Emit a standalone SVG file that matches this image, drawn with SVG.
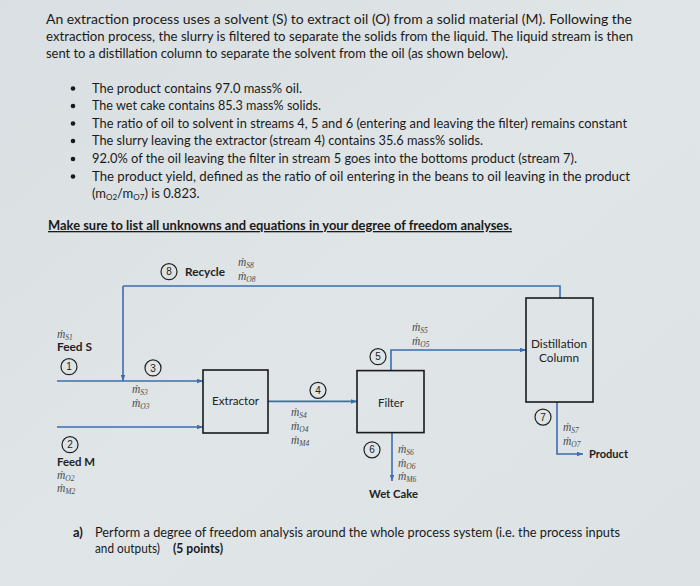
<svg xmlns="http://www.w3.org/2000/svg" width="700" height="586" viewBox="0 0 700 586">
<defs>
<linearGradient id="bg" x1="0" y1="0" x2="1" y2="1">
<stop offset="0" stop-color="#d9dfe2"/>
<stop offset="0.5" stop-color="#e0e5e7"/>
<stop offset="1" stop-color="#dde2e4"/>
</linearGradient>
<marker id="ah" viewBox="0 0 8 6" refX="8" refY="3" markerWidth="6" markerHeight="5" markerUnits="userSpaceOnUse" orient="auto">
<path d="M0,0 L8,3 L0,6 Z" fill="#3d6db0"/>
</marker>
<style>
.t{font-family:Lato,"Liberation Sans",Arial,sans-serif;font-size:13px;fill:#1a1a1a}
.tb{font-family:Lato,"Liberation Sans",Arial,sans-serif;font-size:13px;font-weight:bold;fill:#1a1a1a}
.lb{font-family:Lato,"Liberation Sans",Arial,sans-serif;font-size:11px;fill:#222}
.lbb{font-family:Lato,"Liberation Sans",Arial,sans-serif;font-size:11px;font-weight:bold;fill:#222}
.m{font-family:"Liberation Serif","DejaVu Serif",serif;font-style:italic;font-size:11.5px;fill:#4a4a4a}
.sb{font-size:7.5px}
.num{font-family:"Liberation Sans",Arial,sans-serif;font-size:10px;fill:#222;text-anchor:middle}
.circ{fill:none;stroke:#222;stroke-width:1.2}
.box{fill:none;stroke:#1a1a1a;stroke-width:1.6}
.ln{fill:none;stroke:#3d6db0;stroke-width:1.6;marker-end:url(#ah)}
.ln0{fill:none;stroke:#3d6db0;stroke-width:1.6}
.bul{fill:#1a1a1a}
</style>
</defs>
<rect x="0" y="0" width="700" height="586" fill="url(#bg)"/>
<g id="intro">
<text class="t" x="46" y="24" textLength="586" lengthAdjust="spacingAndGlyphs">An extraction process uses a solvent (S) to extract oil (O) from a solid material (M).  Following the</text>
<text class="t" x="46" y="41" textLength="587" lengthAdjust="spacingAndGlyphs">extraction process, the slurry is filtered to separate the solids from the liquid.  The liquid stream is then</text>
<text class="t" x="46" y="58" textLength="462" lengthAdjust="spacingAndGlyphs">sent to a distillation column to separate the solvent from the oil (as shown below).</text>
</g>
<g id="bullets">
<circle class="bul" cx="73" cy="88.5" r="2.3"/>
<circle class="bul" cx="73" cy="106" r="2.3"/>
<circle class="bul" cx="73" cy="123.5" r="2.3"/>
<circle class="bul" cx="73" cy="141" r="2.3"/>
<circle class="bul" cx="73" cy="159" r="2.3"/>
<circle class="bul" cx="73" cy="176.5" r="2.3"/>
<text class="t" x="92" y="92.5" textLength="210" lengthAdjust="spacingAndGlyphs">The product contains 97.0 mass% oil.</text>
<text class="t" x="92" y="110" textLength="229" lengthAdjust="spacingAndGlyphs">The wet cake contains 85.3 mass% solids.</text>
<text class="t" x="92" y="127.5" textLength="535" lengthAdjust="spacingAndGlyphs">The ratio of oil to solvent in streams 4, 5 and 6 (entering and leaving the filter) remains constant</text>
<text class="t" x="92" y="145" textLength="391" lengthAdjust="spacingAndGlyphs">The slurry leaving the extractor (stream 4) contains 35.6 mass% solids.</text>
<text class="t" x="92" y="163" textLength="485" lengthAdjust="spacingAndGlyphs">92.0% of the oil leaving the filter in stream 5 goes into the bottoms product (stream 7).</text>
<text class="t" x="92" y="180.5" textLength="538" lengthAdjust="spacingAndGlyphs">The product yield, defined as the ratio of oil entering in the beans to oil leaving in the product</text>
<text class="t" x="92" y="198">(m<tspan font-size="8" dy="2">O2</tspan><tspan dy="-2">/m</tspan><tspan font-size="8" dy="2">O7</tspan><tspan dy="-2">) is 0.823.</tspan></text>
<text class="tb" x="48" y="230" textLength="464" lengthAdjust="spacingAndGlyphs" text-decoration="underline">Make sure to list all unknowns and equations in your degree of freedom analyses.</text>
</g>
<g id="connectors">
<path class="ln0" d="M560,298 V286 H123"/>
<path class="ln" d="M123,286 V381"/>
<path class="ln" d="M57,381 H203"/>
<path class="ln" d="M57,427 H203"/>
<path class="ln" d="M268,401.4 H357"/>
<path class="ln" d="M391,370.6 V350 H526"/>
<path class="ln" d="M392,432.6 V481"/>
<path class="ln" d="M557,402 V454 H583"/>
</g>
<g id="extractor">
<rect class="box" x="203" y="370" width="65" height="63"/>
<text class="lb" x="212" y="405" textLength="47" lengthAdjust="spacingAndGlyphs">Extractor</text>
</g>
<g id="filter">
<rect class="box" x="357" y="370.6" width="67" height="62"/>
<text class="lb" x="378" y="407" textLength="26" lengthAdjust="spacingAndGlyphs">Filter</text>
</g>
<g id="distillation">
<rect class="box" x="526" y="298" width="67" height="104"/>
<text class="lb" x="531" y="348" textLength="56" lengthAdjust="spacingAndGlyphs">Distillation</text>
<text class="lb" x="539" y="362" textLength="40" lengthAdjust="spacingAndGlyphs">Column</text>
</g>
<g id="stream8">
<circle class="circ" cx="169" cy="271.7" r="8"/>
<text class="num" x="169" y="275.3">8</text>
<text class="lbb" x="185" y="275.5" textLength="40" lengthAdjust="spacingAndGlyphs">Recycle</text>
<text class="m" x="238" y="266">ṁ<tspan class="sb" dy="2">S8</tspan></text>
<text class="m" x="238" y="280">ṁ<tspan class="sb" dy="2">O8</tspan></text>
</g>
<g id="stream1">
<text class="m" x="57" y="337.5">ṁ<tspan class="sb" dy="2">S1</tspan></text>
<text class="lbb" x="57" y="351" textLength="35" lengthAdjust="spacingAndGlyphs">Feed S</text>
<circle class="circ" cx="69" cy="366.7" r="8"/>
<text class="num" x="69" y="370.3">1</text>
</g>
<g id="stream3">
<circle class="circ" cx="153" cy="367.9" r="8"/>
<text class="num" x="153" y="371.5">3</text>
<text class="m" x="132" y="393">ṁ<tspan class="sb" dy="2">S3</tspan></text>
<text class="m" x="132" y="407">ṁ<tspan class="sb" dy="2">O3</tspan></text>
</g>
<g id="stream2">
<circle class="circ" cx="70" cy="444.7" r="8"/>
<text class="num" x="70" y="448.3">2</text>
<text class="lbb" x="57" y="465.5" textLength="38" lengthAdjust="spacingAndGlyphs">Feed M</text>
<text class="m" x="57" y="478.5">ṁ<tspan class="sb" dy="2">O2</tspan></text>
<text class="m" x="57" y="491.5">ṁ<tspan class="sb" dy="2">M2</tspan></text>
</g>
<g id="stream4">
<circle class="circ" cx="318" cy="390.3" r="8"/>
<text class="num" x="318" y="393.9">4</text>
<text class="m" x="291" y="415.5">ṁ<tspan class="sb" dy="2">S4</tspan></text>
<text class="m" x="291" y="429.5">ṁ<tspan class="sb" dy="2">O4</tspan></text>
<text class="m" x="291" y="443.5">ṁ<tspan class="sb" dy="2">M4</tspan></text>
</g>
<g id="stream5">
<circle class="circ" cx="378" cy="356.7" r="8"/>
<text class="num" x="378" y="360.3">5</text>
<text class="m" x="412" y="330.5">ṁ<tspan class="sb" dy="2">S5</tspan></text>
<text class="m" x="412" y="344.5">ṁ<tspan class="sb" dy="2">O5</tspan></text>
</g>
<g id="stream6">
<circle class="circ" cx="372" cy="449.8" r="8"/>
<text class="num" x="372" y="453.4">6</text>
<text class="m" x="398" y="453">ṁ<tspan class="sb" dy="2">S6</tspan></text>
<text class="m" x="398" y="466.5">ṁ<tspan class="sb" dy="2">O6</tspan></text>
<text class="m" x="398" y="480">ṁ<tspan class="sb" dy="2">M6</tspan></text>
<text class="lbb" x="369" y="497.5" textLength="49" lengthAdjust="spacingAndGlyphs">Wet Cake</text>
</g>
<g id="stream7">
<circle class="circ" cx="543" cy="417.1" r="8"/>
<text class="num" x="543" y="420.7">7</text>
<text class="m" x="563" y="431">ṁ<tspan class="sb" dy="2">S7</tspan></text>
<text class="m" x="563" y="445">ṁ<tspan class="sb" dy="2">O7</tspan></text>
<text class="lbb" x="589" y="458" textLength="39" lengthAdjust="spacingAndGlyphs">Product</text>
</g>
<g id="question">
<text class="tb" x="73" y="536.5">a)</text>
<text class="t" x="95" y="536.5" textLength="525" lengthAdjust="spacingAndGlyphs">Perform a degree of freedom analysis around the whole process system (i.e. the process inputs</text>
<text class="t" x="95" y="552.5" textLength="65" lengthAdjust="spacingAndGlyphs">and outputs)</text>
<text class="tb" x="173" y="552.5" textLength="50" lengthAdjust="spacingAndGlyphs">(5 points)</text>
</g>
</svg>
